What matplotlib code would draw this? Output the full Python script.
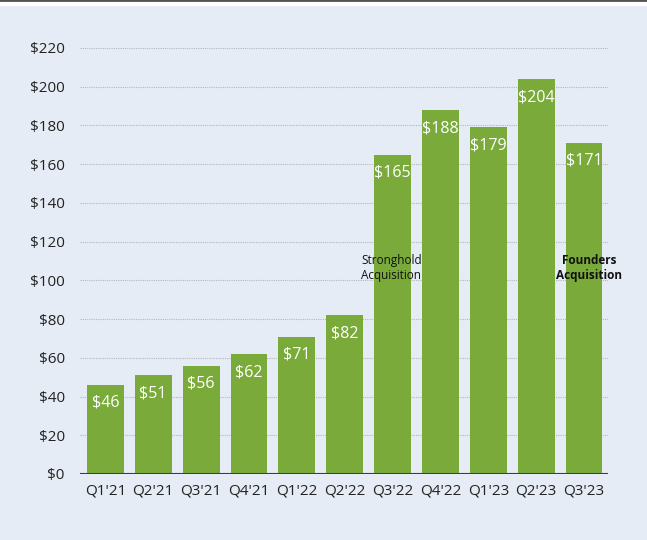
import matplotlib
matplotlib.use("Agg")
import matplotlib.pyplot as plt
from matplotlib.lines import Line2D

categories = ["Q1'21", "Q2'21", "Q3'21", "Q4'21", "Q1'22", "Q2'22",
              "Q3'22", "Q4'22", "Q1'23", "Q2'23", "Q3'23"]
values = [46, 51, 56, 62, 71, 82, 165, 188, 179, 204, 171]
yticks = list(range(0, 221, 20))

plt.rcParams['font.family'] = ['Open Sans', 'DejaVu Sans']

bg = '#E6ECF5'
fig = plt.figure(figsize=(6.47, 5.40), dpi=100, facecolor=bg)
ax = fig.add_axes([80/647, 66/540, 528/647, 426/540])
ax.set_facecolor(bg)

x = list(range(len(categories)))
bars = ax.bar(x, values, width=0.77, color='#7AAB3A', zorder=2)

ax.set_xlim(-0.53, 10.5)
ax.set_ylim(0, 220)
ax.set_yticks(yticks)
ax.set_yticklabels([f"${v}" for v in yticks], fontsize=11, color='#222222')
ax.set_xticks(x)
ax.set_xticklabels(categories, fontsize=11, color='#222222')
ax.tick_params(axis='both', length=0)
ax.tick_params(axis='y', pad=11)
ax.tick_params(axis='x', pad=7)

for s in ax.spines.values():
    s.set_visible(False)
for v in yticks[1:]:
    ax.axhline(v, color='#B4B8BE', lw=0.8, ls=(0, (1, 1)), zorder=1)
ax.axhline(0, color='#2F3A7A', lw=1.5, zorder=3)

for xi, v in zip(x, values):
    ax.annotate(f"${v}", (xi, v), xytext=(0, -13), textcoords='offset points',
                ha='center', va='center', color='white', fontsize=11.5, zorder=4)

ax.text(5.35, 106.5, "Stronghold\nAcquisition", ha='left', va='center',
        fontsize=8.5, color='#111111', linespacing=1.2, zorder=4)
ax.text(10.11, 106.5, "Founders\nAcquisition", ha='center', va='center',
        fontsize=8.5, color='#111111', fontweight='bold', linespacing=1.2, zorder=4)

# top border line
fig.add_artist(Line2D([0, 1], [0.998, 0.998], transform=fig.transFigure,
                      color='#555555', lw=1.5))
fig.add_artist(Line2D([0, 1], [0.993, 0.993], transform=fig.transFigure,
                      color='white', lw=3))

fig.savefig("out.png", dpi=100, facecolor=bg)
